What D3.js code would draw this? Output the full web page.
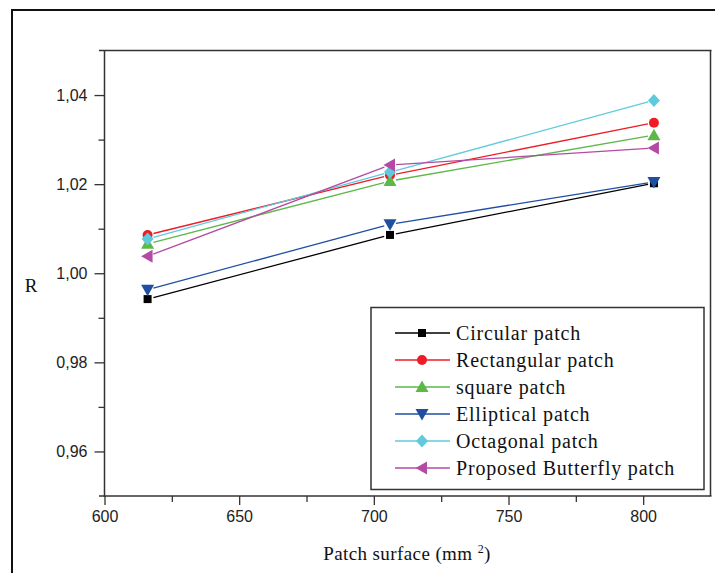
<!DOCTYPE html>
<html>
<head>
<meta charset="utf-8">
<script src="https://cdn.jsdelivr.net/npm/d3@7"></script>
<style>
  body { margin: 0; background: #fff; }
  svg { display: block; }
  .sans { font-family: "Liberation Sans", Arial, "DejaVu Sans", sans-serif; }
  .serif { font-family: "Liberation Serif", "Times New Roman", "DejaVu Serif", serif; }
</style>
</head>
<body>
<script>
// patch surface (mm²) and R values
const surfaces = [616, 706, 804];
const circular = [0.9942, 1.0086, 1.0202];
const rectangular = [1.0086, 1.0220, 1.0338];
const square = [1.0066, 1.0207, 1.0310];
const elliptical = [0.9963, 1.0110, 1.0205];
const octagonal = [1.0077, 1.0227, 1.0388];
const butterfly = [1.0038, 1.0243, 1.0281];

const seriesNames = ["Circular patch", "Rectangular patch", "square patch",
  "Elliptical patch", "Octagonal patch", "Proposed Butterfly patch"];
const xTicks = [600, 625, 650, 675, 700, 725, 750, 775, 800, 825];
const yTicks = [0.95, 0.96, 0.97, 0.98, 0.99, 1.00, 1.01, 1.02, 1.03, 1.04, 1.05];

const series = [
  {name: seriesNames[0], values: circular, color: "#000000", symbol: "square"},
  {name: seriesNames[1], values: rectangular, color: "#ee1c25", symbol: "circle"},
  {name: seriesNames[2], values: square, color: "#5cb947", symbol: "up"},
  {name: seriesNames[3], values: elliptical, color: "#1f4ea3", symbol: "down"},
  {name: seriesNames[4], values: octagonal, color: "#5fcadc", symbol: "diamond"},
  {name: seriesNames[5], values: butterfly, color: "#b44aa5", symbol: "left"}
];

const W = 715, H = 573;
const svg = d3.select("body").append("svg").attr("width", W).attr("height", H);
svg.append("rect").attr("width", W).attr("height", H).attr("fill", "#fff");

// outer border
svg.append("path")
  .attr("d", `M12,${H} V10 H${W}`)
  .attr("fill", "none").attr("stroke", "#111").attr("stroke-width", 2);

const x = d3.scaleLinear().domain([600, 825]).range([104.5, 710.5]);
const y = d3.scaleLinear().domain([0.95, 1.05]).range([496, 50.5]);

const frame = "#333";

// frame
svg.append("line").attr("x1", 99).attr("x2", 711.5).attr("y1", y(1.05)).attr("y2", y(1.05))
  .attr("stroke", frame).attr("stroke-width", 1.5);
svg.append("line").attr("x1", 99).attr("x2", 711.5).attr("y1", y(0.95)).attr("y2", y(0.95))
  .attr("stroke", frame).attr("stroke-width", 1.5);
svg.append("line").attr("x1", x(600)).attr("x2", x(600)).attr("y1", y(1.05)).attr("y2", y(0.95) + 1)
  .attr("stroke", frame).attr("stroke-width", 1.5);
svg.append("line").attr("x1", x(825)).attr("x2", x(825)).attr("y1", y(1.05)).attr("y2", y(0.95))
  .attr("stroke", frame).attr("stroke-width", 1.5);

// x axis
const isMajorX = v => v % 50 === 0;
const xAxis = svg.append("g")
  .attr("transform", `translate(0,${y(0.95)})`)
  .call(d3.axisBottom(x).tickValues(xTicks.slice(0, -1)).tickSize(9).tickPadding(6)
    .tickFormat(d => isMajorX(d) ? d : ""));
xAxis.select(".domain").remove();
xAxis.selectAll(".tick line").attr("stroke", frame).attr("stroke-width", 1.3)
  .attr("y2", d => isMajorX(d) ? 9 : 6);
xAxis.selectAll(".tick text").attr("class", "sans")
  .attr("font-family", null).attr("font-size", 16).attr("fill", "#222");
xAxis.attr("font-family", null);

// y axis
const isMajorY = v => Math.round(v * 100) % 2 === 0;
const yAxis = svg.append("g")
  .attr("transform", `translate(${x(600)},0)`)
  .call(d3.axisLeft(y).tickValues(yTicks.slice(1, -1)).tickSize(10).tickPadding(7)
    .tickFormat(d => isMajorY(d) ? d3.format(".2f")(d).replace(".", ",") : ""));
yAxis.select(".domain").remove();
yAxis.selectAll(".tick line").attr("stroke", frame).attr("stroke-width", 1.3)
  .attr("x2", d => isMajorY(d) ? -10 : -6);
yAxis.selectAll(".tick text").attr("class", "sans")
  .attr("font-size", 16).attr("fill", "#222");
yAxis.attr("font-family", null);

// axis titles
svg.append("text").attr("class", "serif").attr("x", 31).attr("y", 292).attr("text-anchor", "middle")
  .attr("font-size", 19).attr("fill", "#111").text("R");

const xt = svg.append("text").attr("class", "serif").attr("x", 407).attr("y", 560)
  .attr("text-anchor", "middle").attr("font-size", 19).attr("letter-spacing", 0.4)
  .attr("fill", "#111");
xt.append("tspan").text("Patch surface (mm ");
xt.append("tspan").attr("font-size", 12).attr("dy", -7).text("2");
xt.append("tspan").attr("dy", 7).text(")");

// marker shapes
function marker(sel, symbol, color) {
  if (symbol === "square") {
    sel.append("rect").attr("x", -4).attr("y", -4).attr("width", 8).attr("height", 8).attr("fill", color);
  } else if (symbol === "circle") {
    sel.append("circle").attr("r", 5).attr("fill", color);
  } else {
    const pts = {
      up: [[0, -6.5], [6.5, 5], [-6.5, 5]],
      down: [[0, 6.5], [6.5, -5], [-6.5, -5]],
      diamond: [[0, -6.5], [6, 0], [0, 6.5], [-6, 0]],
      left: [[-6.5, 0], [5, -6.5], [5, 6.5]]
    }[symbol];
    sel.append("polygon").attr("points", pts.map(p => p.join(",")).join(" ")).attr("fill", color);
  }
}

// lines (with small gaps at the markers) and markers
const gap = 6;
series.forEach(s => {
  const pts = s.values.map((v, i) => [x(surfaces[i]), y(v)]);
  const g = svg.append("g");
  for (let i = 0; i < pts.length - 1; i++) {
    const [x0, y0] = pts[i], [x1, y1] = pts[i + 1];
    const len = Math.hypot(x1 - x0, y1 - y0);
    const ux = (x1 - x0) / len, uy = (y1 - y0) / len;
    g.append("line")
      .attr("x1", x0 + ux * gap).attr("y1", y0 + uy * gap)
      .attr("x2", x1 - ux * gap).attr("y2", y1 - uy * gap)
      .attr("stroke", s.color).attr("stroke-width", 1.3);
  }
  pts.forEach(p => {
    marker(g.append("g").attr("transform", `translate(${p[0]},${p[1]})`), s.symbol, s.color);
  });
});

// legend
const lg = svg.append("g");
lg.append("rect").attr("x", 371).attr("y", 307.5).attr("width", 333).attr("height", 182)
  .attr("fill", "#fff").attr("stroke", frame).attr("stroke-width", 1.5);
series.forEach((s, i) => {
  const yy = 333 + i * 27;
  lg.append("line").attr("x1", 395).attr("x2", 450).attr("y1", yy).attr("y2", yy)
    .attr("stroke", s.color).attr("stroke-width", 1.3);
  marker(lg.append("g").attr("transform", `translate(422,${yy})`), s.symbol, s.color);
  lg.append("text").attr("class", "serif").attr("x", 456).attr("y", yy + 7)
    .attr("font-size", 20).attr("letter-spacing", 0.8).attr("fill", "#111").text(s.name);
});
</script>
</body>
</html>
